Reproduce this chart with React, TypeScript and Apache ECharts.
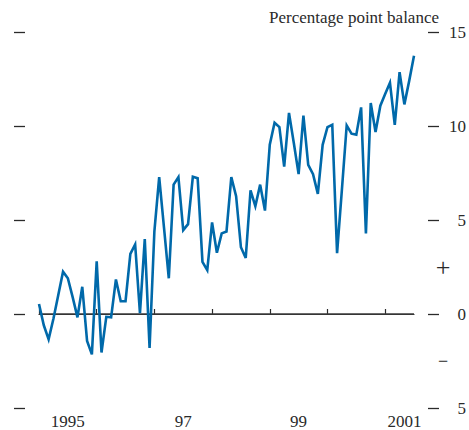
import React, { useEffect, useRef } from "react";
import * as echarts from "echarts";

// Monthly balance, Jan 1995 – Jul 2001 (percentage points)
const values1995 = [0.53, -0.6, -1.35, -0.25, 1.0, 2.25, 1.9, 0.9, -0.18, 1.45, -1.43, -2.15];
const values1996 = [2.8, -2.05, -0.15, -0.18, 1.84, 0.68, 0.68, 3.2, 3.7, 0.05, 3.98, -1.8];
const values1997 = [4.4, 7.28, 4.6, 1.9, 6.88, 7.28, 4.46, 4.78, 7.3, 7.22, 2.77, 2.33];
const values1998 = [4.87, 3.26, 4.29, 4.39, 7.28, 6.27, 3.55, 2.98, 6.58, 5.74, 6.88, 5.5];
const values1999 = [9.0, 10.17, 9.94, 7.84, 10.7, 9.1, 7.44, 10.55, 7.93, 7.44, 6.39, 9.0];
const values2000 = [9.94, 10.06, 3.24, 6.6, 10.03, 9.59, 9.54, 10.99, 4.29, 11.22, 9.68, 11.08];
const values2001 = [11.7, 12.3, 10.06, 12.86, 11.15, 12.4, 13.74];

const years = [1995, 1996, 1997, 1998, 1999, 2000, 2001];
const yearlyValues = [values1995, values1996, values1997, values1998, values1999, values2000, values2001];

// x-axis labels: category index where each label sits, and its text
const xLabelIndex = [6, 30, 54, 76];
const xLabelText = ["1995", "97", "99", "2001"];

const yTicks = { min: -5, max: 15, interval: 5 };
const titleText = "Percentage point balance";

const categories: string[] = [];
const seriesValues: number[] = [];
yearlyValues.forEach((arr, yi) => {
  arr.forEach((v, mi) => {
    categories.push(`${years[yi]}-${String(mi + 1).padStart(2, "0")}`);
    seriesValues.push(v);
  });
});

const FONT = "'Liberation Serif', 'Times New Roman', serif";
const INK = "#2a2a2a";

export default function App() {
  const ref = useRef<HTMLDivElement>(null);
  useEffect(() => {
    if (!ref.current) return;
    const chart = echarts.init(ref.current, undefined, { renderer: "svg" });
    chart.setOption({
      animation: false,
      backgroundColor: "#ffffff",
      title: {
        text: titleText,
        right: 30,
        top: 9,
        padding: 0,
        textStyle: { fontFamily: FONT, fontSize: 17, fontWeight: "normal", color: INK },
      },
      grid: { left: 39, right: 54, top: 32, bottom: 17, containLabel: false },
      xAxis: {
        type: "category",
        data: categories,
        boundaryGap: false,
        axisLine: { show: true, lineStyle: { color: INK, width: 1.2 } },
        axisTick: {
          show: true,
          inside: true,
          length: 5,
          interval: (i: number) => i % 12 === 0,
          lineStyle: { color: INK, width: 1.2 },
        },
        axisLabel: {
          show: true,
          interval: (i: number) => xLabelIndex.includes(i),
          formatter: (_v: string, i: number) => {
            const k = xLabelIndex.indexOf(i);
            return k >= 0 ? xLabelText[k] : "";
          },
          margin: 5,
          fontFamily: FONT,
          fontSize: 17,
          color: INK,
        },
        splitLine: { show: false },
      },
      yAxis: [
        {
          type: "value",
          position: "left",
          offset: 14,
          min: yTicks.min,
          max: yTicks.max,
          interval: yTicks.interval,
          axisLine: { show: false },
          axisTick: { show: true, length: 11, lineStyle: { color: INK, width: 1.3 } },
          axisLabel: { show: false },
          splitLine: { show: false },
        },
        {
          type: "value",
          position: "right",
          offset: 14,
          min: yTicks.min,
          max: yTicks.max,
          interval: yTicks.interval,
          axisLine: { show: false },
          axisTick: { show: true, length: 11, lineStyle: { color: INK, width: 1.3 } },
          axisLabel: {
            show: true,
            margin: 38,
            align: "right",
            formatter: (v: number) => String(Math.abs(v)),
            fontFamily: FONT,
            fontSize: 17,
            color: INK,
          },
          splitLine: { show: false },
        },
        {
          type: "value",
          position: "right",
          offset: 14,
          min: yTicks.min,
          max: yTicks.max,
          interval: 2.5,
          axisLine: { show: false },
          axisTick: { show: false },
          axisLabel: {
            show: true,
            margin: 15,
            align: "center",
            fontFamily: FONT,
            fontSize: 17,
            color: INK,
            formatter: (v: number) => (v === 2.5 ? "{p|+}" : v === -2.5 ? "{m|\u2212}" : ""),
            rich: {
              p: { fontFamily: FONT, fontSize: 26, color: INK, fontWeight: "normal" },
              m: { fontFamily: FONT, fontSize: 18, color: INK },
            },
          },
          splitLine: { show: false },
        },
      ],
      series: [
        {
          type: "line",
          data: seriesValues,
          yAxisIndex: 0,
          showSymbol: false,
          symbol: "none",
          lineStyle: { color: "#0069aa", width: 2.6, join: "miter" },
          itemStyle: { color: "#0069aa" },
          markLine: {
            silent: true,
            symbol: ["none", "none"],
            label: { show: false },
            lineStyle: { color: "#3a3a3a", width: 1.5, type: "solid" },
            data: [{ yAxis: 0 }],
            z: 1,
          },
          z: 3,
        },
      ],
    });
    return () => chart.dispose();
  }, []);
  return (
    <div
      ref={ref}
      style={{ position: "fixed", left: 0, top: 0, width: 469, height: 430, background: "#fff" }}
    />
  );
}
